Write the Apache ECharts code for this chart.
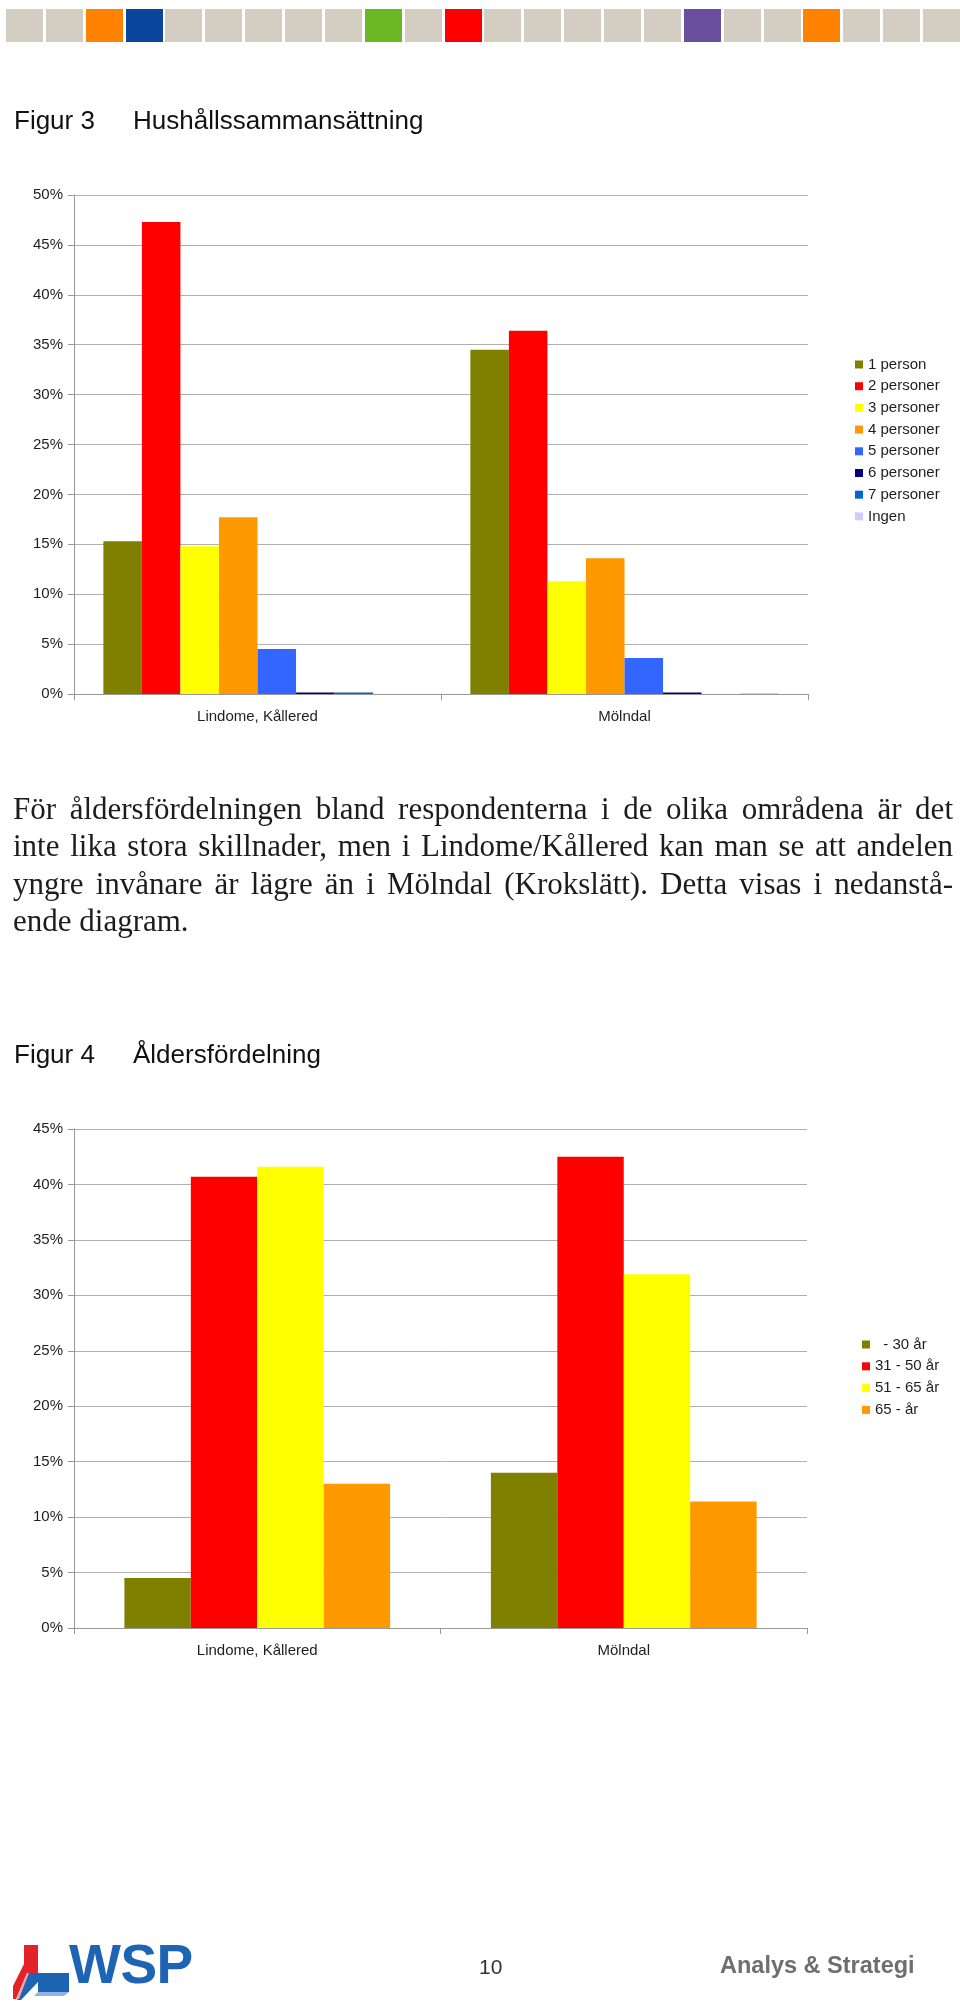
<!DOCTYPE html>
<html>
<head>
<meta charset="utf-8">
<script src="https://cdn.jsdelivr.net/npm/echarts@6/dist/echarts.min.js"></script>
<style>
html,body{margin:0;padding:0;background:#fff;}
#page{position:relative;width:960px;height:2002px;overflow:hidden;background:#fff;}
#chart{position:absolute;left:0;top:0;width:960px;height:2002px;}
.tile{position:absolute;top:9px;width:37px;height:33px;}
.t{position:absolute;white-space:pre;font-family:"Liberation Sans",Arial,sans-serif;color:#111;}
.p{position:absolute;left:13px;width:940px;font-family:"Liberation Serif","Times New Roman",serif;font-size:31px;line-height:37.4px;height:37.4px;color:#1c1c1c;text-align:justify;text-align-last:justify;overflow:visible;}
.p.last{text-align:left;text-align-last:left;}
</style>
</head>
<body>
<div id="page">
  <div id="tiles"></div>
  <div id="chart"></div>
  <div class="t" style="left:14px;top:107px;font-size:26px;line-height:26px;">Figur 3</div>
  <div class="t" style="left:133px;top:107px;font-size:26px;line-height:26px;">Hushållssammansättning</div>

  <div class="p" style="top:790px;">För åldersfördelningen bland respondenterna i de olika områdena är det</div>
  <div class="p" style="top:827.4px;">inte lika stora skillnader, men i Lindome/Kållered kan man se att andelen</div>
  <div class="p" style="top:864.8px;">yngre invånare är lägre än i Mölndal (Krokslätt). Detta visas i nedanstå-</div>
  <div class="p last" style="top:902.2px;">ende diagram.</div>

  <div class="t" style="left:14px;top:1041px;font-size:26px;line-height:26px;">Figur 4</div>
  <div class="t" style="left:133px;top:1041px;font-size:26px;line-height:26px;">Åldersfördelning</div>

  <svg style="position:absolute;left:13px;top:1942px;" width="60" height="60" viewBox="0 0 60 60">
    <polygon points="11,3 25,3 25,31 14,31 3,57 0,57 0,44 11,22" fill="#e32329"/>
    <polygon points="25,31 56,31 56,50 25,50" fill="#1e64b4"/>
    <polygon points="14,31 25,31 25,40 8,58 4,58" fill="#1e64b4"/>
    <polygon points="25,50 56,50 51,54 21,54" fill="#8fb3de"/>
    <polygon points="3,57 14,31 16,31 6,57" fill="#f2a5a8"/>
  </svg>
  <div class="t" style="left:69px;top:1937px;font-size:55px;line-height:55px;font-weight:bold;color:#1e64b4;letter-spacing:-0.5px;">WSP</div>
  <div class="t" style="left:479px;top:1956px;font-size:21px;line-height:21px;color:#333;">10</div>
  <div class="t" style="left:720px;top:1954px;font-size:23.5px;line-height:23.5px;font-weight:bold;color:#6e6e6e;">Analys &amp; Strategi</div>
</div>
<script>
// ---------- Figur 3: Hushållssammansättning ----------
const hhCategories = ['Lindome, Kållered', 'Mölndal'];
const hhNames = ['1 person', '2 personer', '3 personer', '4 personer', '5 personer', '6 personer', '7 personer', 'Ingen'];
const hhOnePerson   = [15.3, 34.5];
const hhTwoPersons  = [47.3, 36.4];
const hhThreePersons= [14.8, 11.3];
const hhFourPersons = [17.7, 13.6];
const hhFivePersons = [4.5, 3.6];
const hhSixPersons  = [0.15, 0.15];
const hhSevenPersons= [0.15, 0];
const hhNone        = [0, 0.1];
const hhTicks = [0, 50, 5];   // min, max, step (%)

// ---------- Figur 4: Åldersfördelning ----------
const ageCategories = ['Lindome, Kållered', 'Mölndal'];
const ageNames = ['  - 30 år', '31 - 50 år', '51 - 65 år', '65 - år'];
const ageUpTo30  = [4.5, 14.0];
const age31to50  = [40.7, 42.5];
const age51to65  = [41.6, 31.9];
const age65plus  = [13.0, 11.4];
const ageTicks = [0, 45, 5];

// styles
const hhColors = ['#808000', '#ff0000', '#ffff00', '#ff9900', '#3366ff', '#000080', '#0066cc', '#ccccff'];
const ageColors = ['#808000', '#ff0000', '#ffff00', '#ff9900'];
const tileColors = ['#d4cdc1','#d4cdc1','#ff8200','#0b469e','#d4cdc1','#d4cdc1','#d4cdc1','#d4cdc1','#d4cdc1','#6cb824','#d4cdc1','#ff0000','#d4cdc1','#d4cdc1','#d4cdc1','#d4cdc1','#d4cdc1','#6a4f9f','#d4cdc1','#d4cdc1','#ff8200','#d4cdc1','#d4cdc1','#d4cdc1'];

// decorative header tiles
const tilesEl = document.getElementById('tiles');
tileColors.forEach((c, i) => {
  const d = document.createElement('div');
  d.className = 'tile';
  d.style.left = (6 + i * 39.87) + 'px';
  d.style.background = c;
  tilesEl.appendChild(d);
});

const FONT = '"Liberation Sans", Arial, sans-serif';
const gridLine = '#b0b0b0';
const axisCol = '#999999';
const txt = '#1e1e1e';

function yAxis(gi, t) {
  return {
    type: 'value', gridIndex: gi, min: t[0], max: t[1], interval: t[2],
    axisLine: { show: true, lineStyle: { color: axisCol, width: 1 } },
    axisTick: { show: true, length: 6, lineStyle: { color: axisCol } },
    splitLine: { show: true, lineStyle: { color: gridLine, width: 1 } },
    axisLabel: { formatter: '{value}%', margin: 11, fontSize: 15, fontFamily: FONT, color: txt }
  };
}
function xAxis(gi, cats) {
  return {
    type: 'category', gridIndex: gi, data: cats,
    axisLine: { show: true, lineStyle: { color: axisCol, width: 1 } },
    axisTick: { show: true, length: 6, alignWithLabel: false, lineStyle: { color: axisCol } },
    axisLabel: { margin: 15, fontSize: 15, fontFamily: FONT, color: txt }
  };
}

const hhData = [hhOnePerson, hhTwoPersons, hhThreePersons, hhFourPersons, hhFivePersons, hhSixPersons, hhSevenPersons, hhNone];
const ageData = [ageUpTo30, age31to50, age51to65, age65plus];

const series = [];
hhNames.forEach((n, i) => series.push({
  name: n, type: 'bar', xAxisIndex: 0, yAxisIndex: 0, data: hhData[i],
  itemStyle: { color: hhColors[i] }, barGap: '0%', barCategoryGap: '16%', silent: true
}));
ageNames.forEach((n, i) => series.push({
  name: n, type: 'bar', xAxisIndex: 1, yAxisIndex: 1, data: ageData[i],
  itemStyle: { color: ageColors[i] }, barGap: '0%', barCategoryGap: '27.5%', silent: true
}));

const chart = echarts.init(document.getElementById('chart'), null, { renderer: 'canvas' });
chart.setOption({
  animation: false,
  backgroundColor: 'transparent',
  grid: [
    { left: 74, top: 195, width: 734, height: 499, outerBoundsMode: 'none', containLabel: false },
    { left: 74, top: 1129, width: 733, height: 499, outerBoundsMode: 'none', containLabel: false }
  ],
  xAxis: [xAxis(0, hhCategories), xAxis(1, ageCategories)],
  yAxis: [yAxis(0, hhTicks), yAxis(1, ageTicks)],
  legend: [
    { data: hhNames, orient: 'vertical', left: 855, top: 357, padding: 0, itemWidth: 8, itemHeight: 8,
      itemGap: 6.7, icon: 'rect', selectedMode: false, textStyle: { fontSize: 15, fontFamily: FONT, color: txt } },
    { data: ageNames, orient: 'vertical', left: 862, top: 1337, padding: 0, itemWidth: 8, itemHeight: 8,
      itemGap: 6.8, icon: 'rect', selectedMode: false, textStyle: { fontSize: 15, fontFamily: FONT, color: txt } }
  ],
  series: series
});
</script>
</body>
</html>
